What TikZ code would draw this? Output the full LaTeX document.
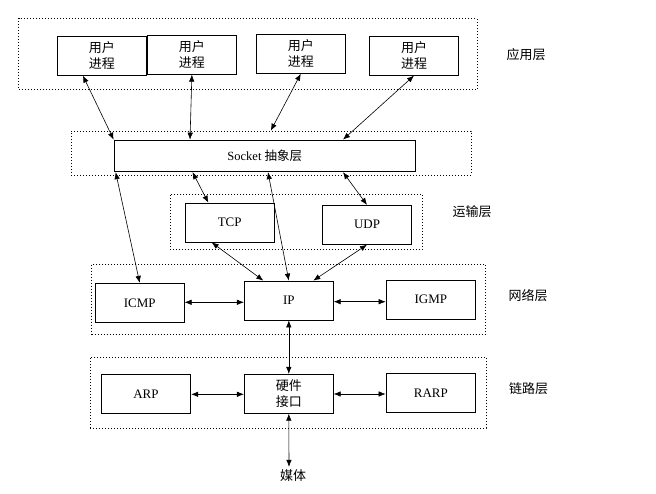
\documentclass[tikz,border=0pt]{standalone}
\usepackage{fontspec}
\setmainfont{Liberation Serif}
\newfontfamily\cjk{Noto Sans CJK SC}
\usetikzlibrary{arrows.meta}
\begin{document}
\begin{tikzpicture}[x=1pt,y=-1pt,
  box/.style={draw,line width=0.8pt,minimum width=89pt,minimum height=39pt,inner sep=0pt,font=\fontsize{13}{14}\selectfont},
  cbox/.style={box,align=center,font=\cjk\fontsize{13}{16}\selectfont},
  layer/.style={draw,dash pattern=on 1pt off 2pt,line width=0.7pt,inner sep=0pt},
  lab/.style={font=\cjk\fontsize{13}{15}\selectfont,inner sep=0pt},
  link/.style={{Latex[length=7pt,width=5.5pt]}-{Latex[length=7pt,width=5.5pt]},line width=0.6pt}]
\useasboundingbox[fill=white] (0,0) rectangle (656,493);
% layer frames
\node[layer,minimum width=458.2pt,minimum height=71pt] (Lapp) at (247.9,53.8) {};
\node[layer,minimum width=400pt,minimum height=44pt] (Lsock) at (271,153) {};
\node[layer,minimum width=252.7pt,minimum height=55pt] (Ltr) at (296.3,221.8) {};
\node[layer,minimum width=394pt,minimum height=69.7pt] (Lnet) at (288.7,299.2) {};
\node[layer,minimum width=396pt,minimum height=71pt] (Llink) at (288,392.8) {};
% layer labels
\node[lab] (tapp) at (526,55) {应用层};
\node[lab] (ttr) at (472,212) {运输层};
\node[lab] (tnet) at (528,296) {网络层};
\node[lab] (tlink) at (528.5,388.3) {链路层};
% application
\node[cbox] (u1) at (101.9,55.7) {用户\\进程};
\node[cbox] (u2) at (191.9,54.7) {用户\\进程};
\node[cbox] (u3) at (300.8,53.8) {用户\\进程};
\node[cbox] (u4) at (414,55.7) {用户\\进程};
% socket
\node[box,minimum width=301.5pt,minimum height=31.7pt,font=\fontsize{12.5}{14}\selectfont] (sock) at (264.8,155.9) {Socket {\cjk 抽象层}};
% transport
\node[box] (tcp) at (229.7,222.5) {TCP};
\node[box] (udp) at (367,224.8) {UDP};
% network
\node[box] (icmp) at (139.7,302.8) {ICMP};
\node[box] (ip) at (288.8,300.5) {IP};
\node[box,minimum width=89.7pt] (igmp) at (430.9,299.5) {IGMP};
% link
\node[box,minimum width=89.7pt] (arp) at (145.9,393.8) {ARP};
\node[cbox] (hw) at (288.8,393.8) {硬件\\接口};
\node[box,minimum width=89.7pt] (rarp) at (430.9,392.8) {RARP};
\node[lab] (media) at (293,476) {媒体};
% connectors app <-> socket
\draw[link] ([xshift=-19pt]u1.south) -- (sock.north west);
\draw[link] (u2.south) -- ([xshift=-74.8pt]sock.north);
\draw[link] (u3.south) -- ([xshift=6pt]Lsock.north -| sock.north);
\draw[link] (u4.south) -- ([xshift=78.2pt]sock.north);
% socket <-> lower
\draw[link] ([xshift=2pt]sock.south west) -- (icmp.north);
\draw[link] ([xshift=-72.3pt]sock.south) -- ([xshift=-21.4pt]tcp.north);
\draw[link] ([xshift=3.2pt]sock.south) -- (ip.north);
\draw[link] ([xshift=78.2pt]sock.south) -- (udp.north);
% transport <-> ip
\draw[link] ([xshift=-18pt]tcp.south) -- ([xshift=-25.5pt]ip.north);
\draw[link] (udp.south) -- ([xshift=24.5pt]ip.north);
% network horizontal
\draw[link] (icmp.east |- 0,302.3) -- (ip.west |- 0,302.3);
\draw[link] (ip.east |- 0,301.7) -- (igmp.west |- 0,301.7);
% ip <-> hw
\draw[link] (ip.south) -- (hw.north);
% link horizontal
\draw[link] (arp.east |- 0,394.3) -- (hw.west |- 0,394.3);
\draw[link] (hw.east |- 0,394) -- (rarp.west |- 0,394);
% hw <-> media
\draw[link] (hw.south) -- ([xshift=-4pt,yshift=3pt]media.north);
\end{tikzpicture}
\end{document}
